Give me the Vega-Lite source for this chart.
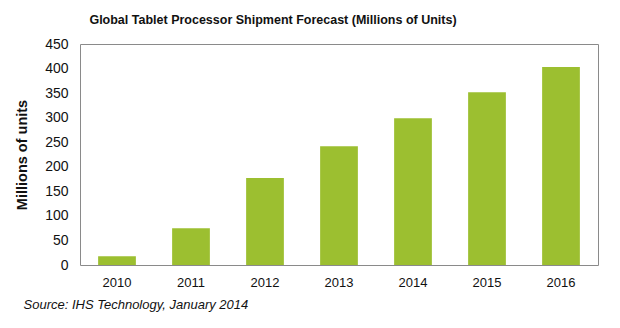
{
  "$schema": "https://vega.github.io/schema/vega-lite/v6.json",
  "width": 518,
  "height": 221,
  "autosize": "none",
  "padding": {"left": 80, "top": 44, "right": 22, "bottom": 63},
  "background": "white",
  "title": {
    "text": "Global Tablet Processor Shipment Forecast (Millions of Units)",
    "font": "Liberation Sans",
    "fontSize": 12.5,
    "fontWeight": "bold",
    "color": "#111111",
    "anchor": "middle",
    "dx": -66,
    "offset": 11
  },
  "data": {
    "values": [
      {"year": "2010", "units": 18},
      {"year": "2011", "units": 75},
      {"year": "2012", "units": 177},
      {"year": "2013", "units": 242},
      {"year": "2014", "units": 299},
      {"year": "2015", "units": 352},
      {"year": "2016", "units": 403}
    ]
  },
  "mark": {"type": "bar", "color": "#9cbf30"},
  "encoding": {
    "x": {
      "field": "year",
      "type": "ordinal",
      "scale": {"paddingInner": 0.49, "paddingOuter": 0.245},
      "axis": {
        "labelAngle": 0,
        "labelFont": "Liberation Sans",
        "labelFontSize": 13,
        "labelColor": "#111111",
        "labelPadding": 11,
        "ticks": false,
        "domain": false,
        "title": "Source: IHS Technology, January 2014",
        "titleFont": "Liberation Sans",
        "titleFontSize": 13,
        "titleFontWeight": "normal",
        "titleFontStyle": "italic",
        "titleColor": "#111111",
        "titleAlign": "left",
        "titleAnchor": "start",
        "titleBaseline": "alphabetic",
        "titleX": -57,
        "titleY": 43
      }
    },
    "y": {
      "field": "units",
      "type": "quantitative",
      "scale": {"domain": [0, 450]},
      "axis": {
        "values": [0, 50, 100, 150, 200, 250, 300, 350, 400, 450],
        "grid": false,
        "ticks": false,
        "domain": false,
        "labelFont": "Liberation Sans",
        "labelFontSize": 14,
        "labelColor": "#111111",
        "labelPadding": 12,
        "title": "Millions of units",
        "titleFont": "Liberation Sans",
        "titleFontSize": 14.5,
        "titleFontWeight": "bold",
        "titleColor": "#111111",
        "titlePadding": 15
      }
    }
  },
  "config": {
    "view": {"stroke": "#8a8a8a", "strokeWidth": 1}
  }
}
